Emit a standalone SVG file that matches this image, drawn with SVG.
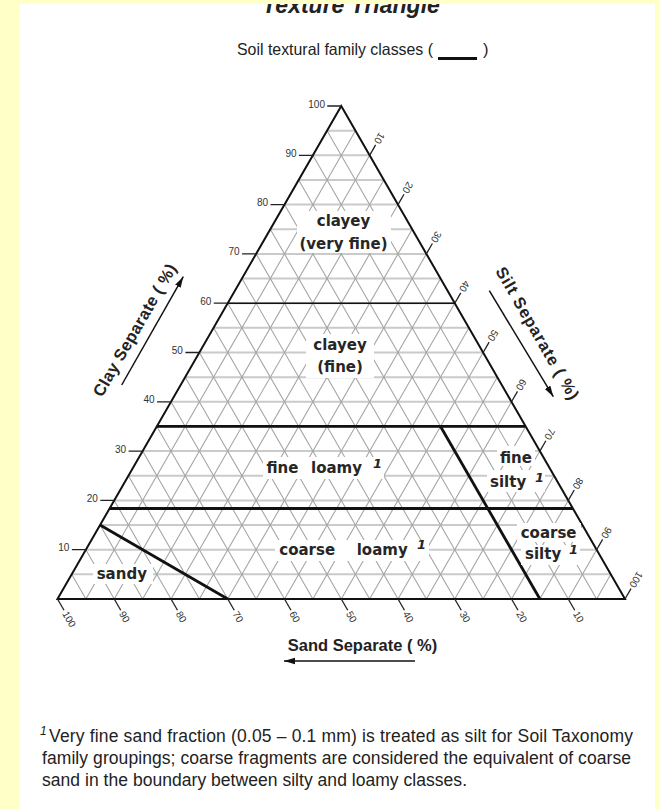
<svg xmlns="http://www.w3.org/2000/svg" width="660" height="809" viewBox="0 0 660 809">
<style>
.gh{stroke:#cacaca;stroke-width:2;fill:none}
.gd{stroke:#a6a6a6;stroke-width:1.1;fill:none}
.edge{stroke:#111;stroke-width:2;fill:none;stroke-linejoin:miter}
.bnd{stroke:#111;stroke-width:2.8;fill:none}
.bndt{stroke:#111;stroke-width:1.6;fill:none}
.tick{stroke:#222;stroke-width:1.3}
.num{font-family:"Liberation Sans",Arial,sans-serif;font-size:10px;fill:#333}
.lbl{font-family:"DejaVu Sans",Verdana,sans-serif;font-size:15px;font-weight:bold;fill:#262626}
.sup{font-family:"DejaVu Sans",Verdana,sans-serif;font-size:13px;font-weight:bold;font-style:italic;fill:#262626}
.mask{fill:#fff}
.axis{font-family:"Liberation Sans",Arial,sans-serif;font-size:16.5px;font-weight:bold;fill:#222}
.note{font-family:"Liberation Sans",Arial,sans-serif;font-size:17.5px;fill:#222}
.arr{stroke:#111;stroke-width:1.5;fill:none}
</style>
<defs>
<marker id="ah" markerUnits="userSpaceOnUse" markerWidth="12" markerHeight="8" refX="11" refY="4" orient="auto"><path d="M0,0.8 L11,4 L0,7.2 Z" fill="#111"/></marker>
</defs>
<rect x="0" y="0" width="660" height="809" fill="#ffffc8"/>
<rect x="20" y="4" width="635" height="805" fill="#ffffff"/>
<text x="351" y="13" text-anchor="middle" font-family="Liberation Sans, Arial, sans-serif" font-size="23" font-weight="bold" font-style="italic" fill="#222">Texture Triangle</text>
<rect x="0" y="0" width="660" height="4" fill="#ffffc8"/>
<g id="subtitle">
<text x="237" y="55" font-family="Liberation Sans, Arial, sans-serif" font-size="16.5" fill="#222" textLength="196" lengthAdjust="spacingAndGlyphs">Soil textural family classes (</text>
<path d="M438 58.5H477" stroke="#111" stroke-width="3"/>
<text x="483" y="55" font-family="Liberation Sans, Arial, sans-serif" font-size="16.5" fill="#222">)</text>
</g>
<g id="grid">
<path class="gh" d="M71.69 574.35H610.81M85.88 549.7H596.63M100.06 525.05H582.44M114.25 500.4H568.25M128.44 475.75H554.06M142.63 451.1H539.88M156.81 426.45H525.69M171 401.8H511.5M185.19 377.15H497.31M199.38 352.5H483.13M213.56 327.85H468.94M227.75 303.2H454.75M241.94 278.55H440.56M256.13 253.9H426.38M270.31 229.25H412.19M284.5 204.6H398M298.69 179.95H383.81M312.88 155.3H369.63M327.06 130.65H355.44"/>
<path class="gd" d="M71.69 574.35L85.88 599M85.88 549.7L114.25 599M100.06 525.05L142.63 599M114.25 500.4L171 599M128.44 475.75L199.38 599M142.63 451.1L227.75 599M156.81 426.45L256.13 599M171 401.8L284.5 599M185.19 377.15L312.88 599M199.38 352.5L341.25 599M213.56 327.85L369.63 599M227.75 303.2L398 599M241.94 278.55L426.38 599M256.13 253.9L454.75 599M270.31 229.25L483.13 599M284.5 204.6L511.5 599M298.69 179.95L539.88 599M312.88 155.3L568.25 599M327.06 130.65L596.63 599"/>
<path class="gd" d="M85.88 599L355.44 130.65M114.25 599L369.63 155.3M142.63 599L383.81 179.95M171 599L398 204.6M199.38 599L412.19 229.25M227.75 599L426.38 253.9M256.13 599L440.56 278.55M284.5 599L454.75 303.2M312.88 599L468.94 327.85M341.25 599L483.13 352.5M369.63 599L497.31 377.15M398 599L511.5 401.8M426.38 599L525.69 426.45M454.75 599L539.88 451.1M483.13 599L554.06 475.75M511.5 599L568.25 500.4M539.88 599L582.44 525.05M568.25 599L596.63 549.7M596.63 599L610.81 574.35"/>
</g>
<g id="connectors">
<path class="bndt" d="M227.75 303.2H454.75"/>
<path class="bnd" d="M156.81 426.45H525.69"/>
<path class="bnd" d="M109.59 508.5H572.91"/>
<path class="bnd" d="M440.56 426.45L539.88 599"/>
<path class="bnd" d="M100.06 525.05L227.75 599"/>
<path class="edge" d="M57.5 599L341.25 106L625 599Z"/>
</g>
<g id="clay-ticks">
<path class="tick" d="M327.25 106H341.25M298.9 155.3H312.9M270.5 204.6H284.5M242.1 253.9H256.1M213.75 303.2H227.75M185.4 352.5H199.4M157 401.8H171M128.6 451.1H142.6M100.25 500.4H114.25M71.9 549.7H85.9"/>
<g class="num" text-anchor="end">
<text x="325" y="107.5">100</text>
<text x="296.5" y="156.8">90</text>
<text x="268" y="206.1">80</text>
<text x="239.6" y="255.4">70</text>
<text x="211.3" y="304.7">60</text>
<text x="182.9" y="354">50</text>
<text x="154.5" y="403.3">40</text>
<text x="126.1" y="452.6">30</text>
<text x="97.75" y="501.9">20</text>
<text x="69.4" y="551.2">10</text>
</g>
</g>
<g id="sand-ticks" class="num">
<g transform="translate(57.5 599) rotate(60)"><path class="tick" d="M0 0H13"/><text x="15" y="3.5">100</text></g>
<g transform="translate(114.25 599) rotate(60)"><path class="tick" d="M0 0H13"/><text x="15" y="3.5">90</text></g>
<g transform="translate(171 599) rotate(60)"><path class="tick" d="M0 0H13"/><text x="15" y="3.5">80</text></g>
<g transform="translate(227.75 599) rotate(60)"><path class="tick" d="M0 0H13"/><text x="15" y="3.5">70</text></g>
<g transform="translate(284.5 599) rotate(60)"><path class="tick" d="M0 0H13"/><text x="15" y="3.5">60</text></g>
<g transform="translate(341.25 599) rotate(60)"><path class="tick" d="M0 0H13"/><text x="15" y="3.5">50</text></g>
<g transform="translate(398 599) rotate(60)"><path class="tick" d="M0 0H13"/><text x="15" y="3.5">40</text></g>
<g transform="translate(454.75 599) rotate(60)"><path class="tick" d="M0 0H13"/><text x="15" y="3.5">30</text></g>
<g transform="translate(511.5 599) rotate(60)"><path class="tick" d="M0 0H13"/><text x="15" y="3.5">20</text></g>
<g transform="translate(568.25 599) rotate(60)"><path class="tick" d="M0 0H13"/><text x="15" y="3.5">10</text></g>
</g>
<g id="silt-ticks" class="num" text-anchor="end">
<g transform="translate(369.63 155.3) rotate(120)"><path class="tick" d="M0 0H-12"/><text x="-14" y="3.5">10</text></g>
<g transform="translate(398 204.6) rotate(120)"><path class="tick" d="M0 0H-12"/><text x="-14" y="3.5">20</text></g>
<g transform="translate(426.38 253.9) rotate(120)"><path class="tick" d="M0 0H-12"/><text x="-14" y="3.5">30</text></g>
<g transform="translate(454.75 303.2) rotate(120)"><path class="tick" d="M0 0H-12"/><text x="-14" y="3.5">40</text></g>
<g transform="translate(483.13 352.5) rotate(120)"><path class="tick" d="M0 0H-12"/><text x="-14" y="3.5">50</text></g>
<g transform="translate(511.5 401.8) rotate(120)"><path class="tick" d="M0 0H-12"/><text x="-14" y="3.5">60</text></g>
<g transform="translate(539.88 451.1) rotate(120)"><path class="tick" d="M0 0H-12"/><text x="-14" y="3.5">70</text></g>
<g transform="translate(568.25 500.4) rotate(120)"><path class="tick" d="M0 0H-12"/><text x="-14" y="3.5">80</text></g>
<g transform="translate(596.63 549.7) rotate(120)"><path class="tick" d="M0 0H-12"/><text x="-14" y="3.5">90</text></g>
<g transform="translate(625 599) rotate(120)"><path class="tick" d="M0 0H-12"/><text x="-14" y="3.5">100</text></g>
</g>
<g id="class-clayey-very-fine">
<rect class="mask" x="297" y="211" width="94" height="42"/>
<text class="lbl" x="343.5" y="226" text-anchor="middle">clayey</text>
<text class="lbl" x="343.5" y="249" text-anchor="middle">(very fine)</text>
</g>
<g id="class-clayey-fine">
<rect class="mask" x="306" y="334" width="68" height="44"/>
<text class="lbl" x="340" y="349.5" text-anchor="middle">clayey</text>
<text class="lbl" x="340" y="371.5" text-anchor="middle">(fine)</text>
</g>
<g id="class-fine-loamy">
<rect class="mask" x="263" y="457" width="121" height="22"/>
<text class="lbl" x="266.5" y="473">fine</text>
<text class="lbl" x="311" y="473">loamy</text>
<text class="sup" x="373" y="468">1</text>
</g>
<g id="class-fine-silty">
<rect class="mask" x="497" y="446" width="38" height="20"/>
<text class="lbl" x="500" y="462.5">fine</text>
<rect class="mask" x="487" y="470" width="58" height="22"/>
<text class="lbl" x="490" y="486.5">silty</text>
<text class="sup" x="535" y="482">1</text>
</g>
<g id="class-coarse-loamy">
<rect class="mask" x="275" y="540" width="154" height="21"/>
<text class="lbl" x="279.3" y="554.5">coarse</text>
<text class="lbl" x="356.7" y="554.5">loamy</text>
<text class="sup" x="417" y="549">1</text>
</g>
<g id="class-coarse-silty">
<rect class="mask" x="517" y="523" width="64" height="19"/>
<text class="lbl" x="520.7" y="537.5">coarse</text>
<rect class="mask" x="521" y="545" width="59" height="20"/>
<text class="lbl" x="525" y="559">silty</text>
<text class="sup" x="569" y="554">1</text>
</g>
<g id="class-sandy">
<rect class="mask" x="93" y="564" width="60" height="20"/>
<text class="lbl" x="96.7" y="578.5">sandy</text>
</g>
<g id="axis-clay">
<text class="axis" transform="translate(102 398) rotate(-60)" textLength="150">Clay Separate ( %)</text>
<path class="arr" d="M121.7 385L183.3 276.7" marker-end="url(#ah)"/>
</g>
<g id="axis-silt">
<text class="axis" transform="translate(495 271) rotate(60)" textLength="150">Silt Separate ( %)</text>
<path class="arr" d="M489.3 290.7L553.3 396.7" marker-end="url(#ah)"/>
</g>
<g id="axis-sand">
<text class="axis" x="362.5" y="651" text-anchor="middle" font-size="17">Sand Separate ( %)</text>
<path class="arr" d="M415 661H284" marker-end="url(#ah)"/>
</g>
<g id="footnote">
<text x="40" y="735" font-family="Liberation Sans, Arial, sans-serif" font-size="12" font-style="italic" fill="#222">1</text>
<text class="note" x="49" y="742" textLength="584">Very fine sand fraction (0.05 – 0.1 mm) is treated as silt for Soil Taxonomy</text>
<text class="note" x="42" y="764" textLength="589">family groupings; coarse fragments are considered the equivalent of coarse</text>
<text class="note" x="42" y="786" textLength="425">sand in the boundary between silty and loamy classes.</text>
</g>
</svg>
